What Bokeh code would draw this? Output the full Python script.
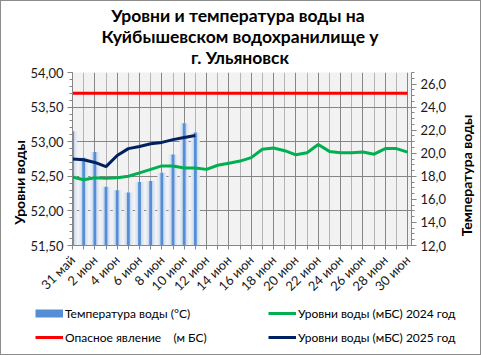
import math
from bokeh.plotting import figure
from bokeh.layouts import column, row
from bokeh.models import (Range1d, LinearAxis, FixedTicker, CustomJSTickFormatter,
                          Grid, Legend, LegendItem, Label)
from bokeh.embed import file_html
from bokeh.resources import INLINE

# ---------------- data ----------------
day_labels = ["31 май", "1 июн", "2 июн", "3 июн", "4 июн", "5 июн", "6 июн", "7 июн",
              "8 июн", "9 июн", "10 июн", "11 июн", "12 июн", "13 июн", "14 июн", "15 июн",
              "16 июн", "17 июн", "18 июн", "19 июн", "20 июн", "21 июн", "22 июн", "23 июн",
              "24 июн", "25 июн", "26 июн", "27 июн", "28 июн", "29 июн", "30 июн"]
water_temp_2025 = [21.9, 19.6, 20.1, 17.1, 16.8, 16.6, 17.5, 17.6, 18.3, 19.9, 22.6, 21.8]
level_2025 = [52.75, 52.74, 52.70, 52.64, 52.80, 52.90, 52.93, 52.97, 52.99, 53.03, 53.06, 53.09]
level_2024 = [52.49, 52.45, 52.48, 52.47, 52.48, 52.50, 52.55, 52.60, 52.65, 52.65, 52.62,
              52.62, 52.60, 52.66, 52.69, 52.72, 52.77, 52.89, 52.91, 52.87, 52.81, 52.84,
              52.96, 52.86, 52.84, 52.84, 52.85, 52.82, 52.90, 52.90, 52.85]
danger_level = 53.70
level_ticks = [51.5, 52.0, 52.5, 53.0, 53.5, 54.0]
temp_ticks = [12, 14, 16, 18, 20, 22, 24, 26]
title_lines = ["Уровни и температура  воды на", "Куйбышевском водохранилище у", "г. Ульяновск"]

x_all = list(range(len(day_labels)))
x_2025 = x_all[:len(level_2025)]
tick_text = [lab if i % 2 == 0 else "" for i, lab in enumerate(day_labels)]

FONT = "Lato"
BLUE = "#558ed5"
GREEN = "#00b050"
NAVY = "#002060"
RED = "#ff0000"
AXIS = "#868686"

TOP_H = 65
MAIN_H = 237
LEG_H = 51
B_TOP = 6
B_BOTTOM = 58
FRAME_H = MAIN_H - B_TOP - B_BOTTOM


def strip(w, h, yh=None):
    f = figure(width=w, height=h, x_range=Range1d(0, w), y_range=Range1d(0, yh or h),
               output_backend="svg", toolbar_location=None, min_border=0,
               x_axis_location=None, y_axis_location=None,
               background_fill_color="white", border_fill_color="white")
    f.outline_line_color = None
    f.grid.visible = False
    return f


# ---------------- title strip ----------------
top = strip(479, TOP_H)
for txt, mid in zip(title_lines, [51.5, 30, 9]):
    top.add_layout(Label(x=238.5, y=mid, text=txt, text_align="center",
                         text_baseline="middle", text_font=FONT, text_font_size="17.5px",
                         text_font_style="bold", text_color="black"))

# ---------------- main chart ----------------
p = figure(width=422, height=MAIN_H, x_range=Range1d(0, 30.35), y_range=Range1d(51.5, 54.0),
           output_backend="svg", toolbar_location=None,
           min_border_left=40, min_border_right=35, min_border_bottom=B_BOTTOM,
           min_border_top=B_TOP,
           background_fill_color="#f2f2f2", border_fill_color="white")
p.title = None
p.outline_line_color = None
p.extra_y_ranges = {"t": Range1d(12, 27)}

# grids
p.xgrid.visible = False
p.ygrid.visible = False
even = [i for i in x_all if i % 2 == 0]
odd = [i for i in x_all if i % 2 == 1]
p.add_layout(Grid(dimension=0, ticker=FixedTicker(ticks=odd), grid_line_color="#b4b4b4"))
p.add_layout(Grid(dimension=0, ticker=FixedTicker(ticks=even), grid_line_color=AXIS))
p.add_layout(Grid(dimension=1, ticker=FixedTicker(ticks=level_ticks), grid_line_color=AXIS))

# x axis
xa = p.xaxis[0]
xa.ticker = FixedTicker(ticks=x_all)
xa.formatter = CustomJSTickFormatter(args=dict(labels=tick_text),
                                     code="return labels[Math.round(tick)] || '';")
xa.major_label_orientation = math.pi / 4
# left axis
ya = p.yaxis[0]
ya.ticker = FixedTicker(ticks=level_ticks,
                        minor_ticks=[51.5 + 0.1 * k for k in range(26)])
ya.formatter = CustomJSTickFormatter(code="return tick.toFixed(2).replace('.', ',');")
# right axis
ra = LinearAxis(y_range_name="t",
                ticker=FixedTicker(ticks=temp_ticks, minor_ticks=[12 + 0.5 * k for k in range(31)]),
                formatter=CustomJSTickFormatter(code="return tick.toFixed(1).replace('.', ',');"))
p.add_layout(ra, "right")

for ax in [xa, ya, ra]:
    ax.axis_line_color = AXIS
    ax.major_tick_line_color = AXIS
    ax.minor_tick_line_color = AXIS
    ax.major_tick_in = 0
    ax.major_tick_out = 5
    ax.minor_tick_in = 0
    ax.minor_tick_out = 3
    ax.major_label_text_font = FONT
    ax.major_label_text_font_size = "13px"
    ax.major_label_text_color = "#1a1a1a"
    ax.major_label_standoff = 4
xa.minor_tick_line_color = None
xa.major_tick_out = 4
xa.major_label_standoff = 8

# bars (temperature, right axis)
p.vbar(x=x_2025, top=water_temp_2025, bottom=12, width=0.8, y_range_name="t",
       fill_color="#e3eaf4", line_color=None)
p.vbar(x=x_2025, top=water_temp_2025, bottom=12, width=0.5, y_range_name="t",
       fill_color="#cddbef", line_color=None)
p.vbar(x=x_2025, top=water_temp_2025, bottom=12, width=0.25, y_range_name="t",
       fill_color=BLUE, line_color=None)

# lines
p.line(x=x_all, y=[danger_level] * len(x_all), line_color=RED, line_width=3)
p.line(x=x_all, y=level_2024, line_color=GREEN, line_width=3)
p.line(x=x_2025, y=level_2025, line_color=NAVY, line_width=3)

# ---------------- axis titles in side strips (frames align with the chart frame) -------
left = strip(26, MAIN_H, FRAME_H)
left.add_layout(Label(x=17.5, y=63, text="Уровни воды", angle=math.pi / 2,
                      text_align="center", text_baseline="middle", text_font=FONT,
                      text_font_size="14px", text_font_style="bold", text_color="black"))
right = strip(31, MAIN_H, FRAME_H)
right.add_layout(Label(x=16.5, y=70, text="Температура воды", angle=math.pi / 2,
                       text_align="center", text_baseline="middle", text_font=FONT,
                       text_font_size="14px", text_font_style="bold", text_color="black"))

# ---------------- legend strip ----------------
q = strip(479, LEG_H)
r_temp = q.line(x=[-20, -10], y=[-20, -20], line_color=BLUE, line_width=8)
r_2024 = q.line(x=[-20, -10], y=[-20, -20], line_color=GREEN, line_width=3)
r_danger = q.line(x=[-20, -10], y=[-20, -20], line_color=RED, line_width=3)
r_2025 = q.line(x=[-20, -10], y=[-20, -20], line_color=NAVY, line_width=3)
common = dict(orientation="horizontal", border_line_color=None, background_fill_alpha=0,
              glyph_width=28, glyph_height=20, label_height=20, label_width=203,
              label_standoff=2, spacing=0, padding=0, margin=0,
              label_text_font=FONT, label_text_font_size="12px", label_text_color="black")
leg1 = Legend(items=[LegendItem(label="Температура воды (°С)", renderers=[r_temp]),
                     LegendItem(label="Уровни воды (мБС) 2024 год", renderers=[r_2024])],
              location=(34, 31), **common)
leg2 = Legend(items=[LegendItem(label="Опасное явление    (м БС)", renderers=[r_danger]),
                     LegendItem(label="Уровни воды (мБС) 2025 год", renderers=[r_2025])],
              location=(34, 7), **common)
q.add_layout(leg1, "center")
q.add_layout(leg2, "center")

layout = column(top, row(left, p, right, spacing=0), q, spacing=0)
layout.styles = {"border": "1px solid #8c8c8c"}

open("out.html", "w").write(file_html(layout, INLINE))
